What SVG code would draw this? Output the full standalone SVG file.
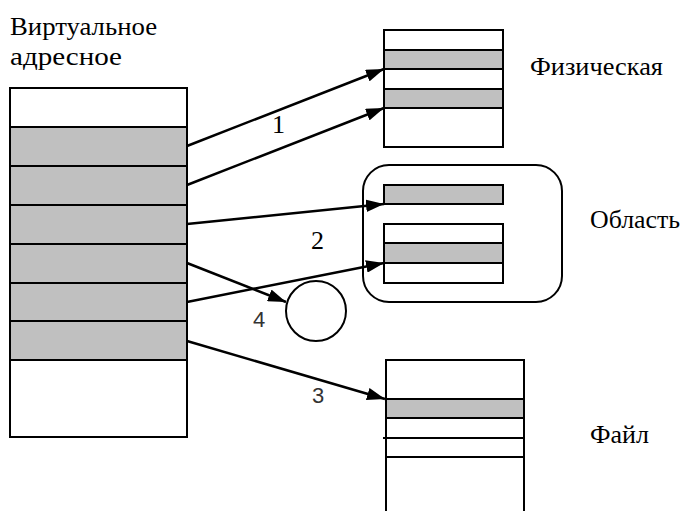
<svg xmlns="http://www.w3.org/2000/svg" width="681" height="511" viewBox="0 0 681 511">
  <style>
    .box { fill: #ffffff; stroke: #000000; stroke-width: 2; }
    .page { fill: #c0c0c0; stroke: #000000; stroke-width: 2; }
    .line { stroke: #000000; stroke-width: 2; fill: none; }
    .edge { stroke: #000000; stroke-width: 2.5; fill: none; marker-end: url(#arrow); }
  </style>
  <defs>
    <marker id="arrow" markerWidth="7.2" markerHeight="5" refX="7.2" refY="2.5" orient="auto" markerUnits="strokeWidth">
      <path d="M0,0 L7.2,2.5 L0,5 Z" fill="#000000"/>
    </marker>
  </defs>
  <rect width="681" height="511" fill="#ffffff"/>

  <!-- virtual address space -->
  <g id="virtual">
    <rect class="box" x="10" y="88" width="177" height="349"/>
    <rect class="page" x="10" y="127" width="177" height="39"/>
    <rect class="page" x="10" y="166" width="177" height="39"/>
    <rect class="page" x="10" y="205" width="177" height="39"/>
    <rect class="page" x="10" y="244" width="177" height="39"/>
    <rect class="page" x="10" y="283" width="177" height="38"/>
    <rect class="page" x="10" y="321" width="177" height="39"/>
    <g font-family="Liberation Serif, Times New Roman, serif" font-size="26" fill="#000000">
      <text x="10" y="35" textLength="147" lengthAdjust="spacingAndGlyphs">Виртуальное</text>
      <text x="10" y="65" textLength="112" lengthAdjust="spacingAndGlyphs">адресное</text>
    </g>
  </g>

  <!-- physical memory -->
  <g id="physical">
    <rect class="box" x="384" y="30" width="119" height="117"/>
    <rect class="page" x="384" y="50" width="119" height="19"/>
    <rect class="page" x="384" y="89" width="119" height="19"/>
    <text x="530" y="75" font-family="Liberation Serif, Times New Roman, serif" font-size="26" textLength="133" lengthAdjust="spacingAndGlyphs">Физическая</text>
  </g>

  <!-- shared region -->
  <g id="region">
    <rect class="box" x="363" y="165" width="199" height="137" rx="26" ry="26"/>
    <rect class="page" x="384" y="185" width="119" height="19"/>
    <rect class="box" x="384" y="224" width="119" height="59"/>
    <rect class="page" x="384" y="243" width="119" height="20"/>
    <text x="590" y="228" font-family="Liberation Serif, Times New Roman, serif" font-size="26" textLength="90" lengthAdjust="spacingAndGlyphs">Область</text>
  </g>

  <!-- unmapped page -->
  <g id="nowhere">
    <circle class="box" cx="316" cy="311" r="30"/>
  </g>

  <!-- mapped file -->
  <g id="file">
    <path class="line" d="M386,512 L386,360 L524,360 L524,512"/>
    <rect class="page" x="386" y="399" width="138" height="19"/>
    <line class="line" x1="383" y1="438" x2="524" y2="438"/>
    <line class="line" x1="386" y1="457" x2="524" y2="457"/>
    <text x="590" y="443" font-family="Liberation Serif, Times New Roman, serif" font-size="26" textLength="59" lengthAdjust="spacingAndGlyphs">Файл</text>
  </g>

  <!-- mappings -->
  <g id="connectors">
    <line class="edge" x1="187" y1="146" x2="384" y2="69"/>
    <line class="edge" x1="187" y1="185" x2="384" y2="108"/>
    <line class="edge" x1="187" y1="224" x2="384" y2="204"/>
    <line class="edge" x1="187" y1="302" x2="384" y2="263"/>
    <line class="edge" x1="187" y1="263" x2="286" y2="302"/>
    <line class="edge" x1="187" y1="341" x2="385" y2="399"/>
    <text x="272" y="133" font-family="Liberation Serif, Times New Roman, serif" font-size="26">1</text>
    <text x="311" y="249" font-family="Liberation Serif, Times New Roman, serif" font-size="26">2</text>
    <text x="312" y="403" font-family="Liberation Sans, Arial, sans-serif" font-size="22" fill="#333333">3</text>
    <text x="253" y="327" font-family="Liberation Sans, Arial, sans-serif" font-size="22" fill="#333333">4</text>
  </g>
</svg>
